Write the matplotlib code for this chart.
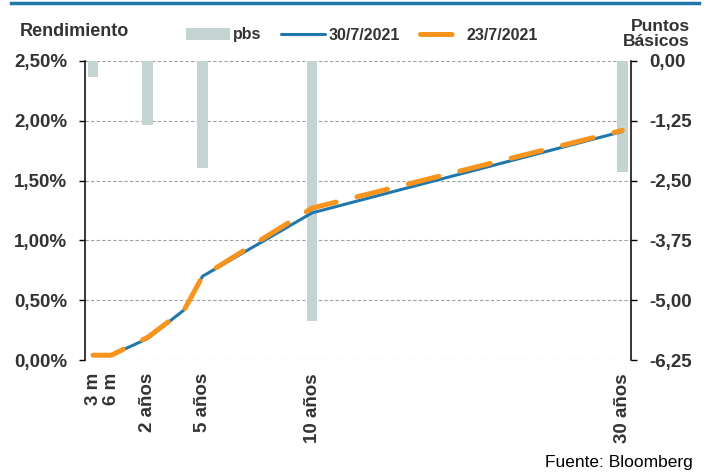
import matplotlib
matplotlib.use("Agg")
import matplotlib.pyplot as plt
from matplotlib.lines import Line2D

plt.rcParams['font.family'] = ['Liberation Sans', 'DejaVu Sans']

# maturities and their position on the original (uneven) axis
maturities = ["3 m", "6 m", "2 años", "4 años", "5 años", "10 años", "30 años"]
x_pos = [1, 2, 4, 6, 7, 13, 30]
labelled = ["3 m", "6 m", "2 años", "5 años", "10 años", "30 años"]

yield_30jul = [0.04, 0.04, 0.18, 0.42, 0.70, 1.23, 1.91]
yield_23jul = [0.04, 0.04, 0.19, 0.42, 0.70, 1.27, 1.92]

# change in basis points (only some maturities)
bar_maturities = ["3 m", "2 años", "5 años", "10 años", "30 años"]
bar_pbs = [-0.33, -1.34, -2.23, -5.43, -2.33]

blue = "#2077ab"
orange = "#f7941d"
grey_bar = "#c5d3d3"
txt = "#333333"

fig = plt.figure(figsize=(7.09, 4.75), dpi=100)
ax1 = fig.add_axes([85/709, 1-360/475, (631-85)/709, (360-61)/475])
ax2 = ax1.twinx()
ax1.set_zorder(2)
ax1.patch.set_visible(False)

# bars on right axis
pos_lookup = dict(zip(maturities, x_pos))
bx = [pos_lookup[m] for m in bar_maturities]
ax2.bar(bx, bar_pbs, width=0.58, color=grey_bar, label="pbs", zorder=2)
ax2.set_ylim(-6.25, 0)
ax2.set_yticks([0, -1.25, -2.5, -3.75, -5.0, -6.25])
ax2.set_yticklabels([f"{v:.2f}".replace(".", ",") for v in [0, -1.25, -2.5, -3.75, -5.0, -6.25]])
ax2.set_axisbelow(True)
ax2.grid(axis="y", color="#a0a0a0", linestyle=(0, (3, 2)), linewidth=0.8)

# lines on left axis
ax1.plot(x_pos, yield_30jul, color=blue, lw=2.2, solid_capstyle="round",
         solid_joinstyle="round", label="30/7/2021")
ax1.plot(x_pos, yield_23jul, color=orange, lw=3.6, linestyle=(0, (6.3, 4.3)),
         dash_capstyle="round", dash_joinstyle="round", label="23/7/2021")
ax1.set_ylim(0, 2.5)
ax1.set_xlim(0.56, 30.48)
ax1.set_yticks([0, 0.5, 1.0, 1.5, 2.0, 2.5])
ax1.set_yticklabels([f"{v:.2f}%".replace(".", ",") for v in [0, 0.5, 1.0, 1.5, 2.0, 2.5]])
ax1.set_xticks([pos_lookup[m] for m in labelled])
ax1.set_xticklabels(labelled, rotation=90, va="top", ha="center")

for ax in (ax1, ax2):
    for s in ("top", "bottom"):
        ax.spines[s].set_visible(False)
    ax.tick_params(axis="y", length=4.3, width=1, color="black", pad=8.5,
                   labelsize=13.5, labelcolor=txt)
    for lbl in ax.get_yticklabels():
        lbl.set_fontweight("bold")
ax1.spines["left"].set_linewidth(1.1)
ax2.spines["right"].set_linewidth(1.1)
ax1.spines["right"].set_visible(False)
ax2.spines["left"].set_visible(False)
ax1.tick_params(axis="x", length=0, pad=9.5, labelsize=13.5, labelcolor=txt)
for lbl in ax1.get_xticklabels():
    lbl.set_fontweight("bold")
ax2.tick_params(axis="x", length=0, labelbottom=False)

# legend
h2, l2 = ax2.get_legend_handles_labels()
h1, l1 = ax1.get_legend_handles_labels()
leg = fig.legend(h2 + h1, l2 + l1, loc="center", bbox_to_anchor=(362/709, 1-35/475),
                 ncol=3, frameon=False, handlelength=2.75, handletextpad=0.2,
                 columnspacing=1.25, prop={"size": 11.5, "weight": "bold"})
for t in leg.get_texts():
    t.set_color(txt)

fig.text(20/709, 1-32/475, "Rendimiento", fontsize=13, fontweight="bold",
         color=txt, ha="left", va="center")
fig.text(690/709, 1-34/475, "Puntos\nBásicos", fontsize=12.5, fontweight="bold",
         color=txt, ha="right", va="center", linespacing=1.0, multialignment="right")
fig.text(693/709, 1-463/475, "Fuente: Bloomberg", fontsize=12.5, color="black",
         ha="right", va="center")

# blue rule at the top
fig.add_artist(Line2D([11/709, 699/709], [1-3.3/475, 1-3.3/475], color=blue,
                      lw=2.5, transform=fig.transFigure))

fig.savefig("out.png", dpi=100)
